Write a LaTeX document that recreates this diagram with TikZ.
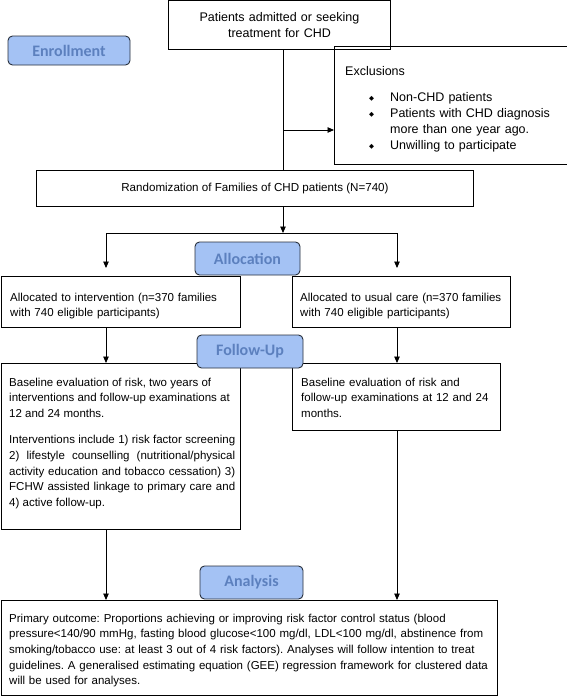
\documentclass[tikz,border=0pt]{standalone}
\usepackage{fontspec}
\setmainfont{Liberation Sans}
\newfontfamily\labelfont{Carlito}
\newfontfamily\symfont{DejaVu Sans}
\usetikzlibrary{arrows.meta}
\definecolor{labfill}{RGB}{164,194,244}
\definecolor{labtext}{RGB}{92,128,190}
\definecolor{labdraw}{RGB}{40,48,60}
\newcommand{\exbul}{\makebox[21pt][l]{\symfont\fontsize{6.5}{6.5}\selectfont\raisebox{0.8pt}{◆}}}
\frenchspacing
\begin{document}
\begin{tikzpicture}[x=1pt,y=-1pt,
  box/.style={draw=black, line width=0.9pt, inner sep=0pt, anchor=north west},
  bt/.style={font=\fontsize{11.6}{15.7}\selectfont},
  bigt/.style={font=\fontsize{12.5}{16}\selectfont},
  stage/.style={draw=labdraw, line width=0.9pt, fill=labfill, rounded corners=4.5pt, inner sep=0pt,
    font=\labelfont\bfseries\fontsize{16}{16}\selectfont, text=labtext},
  txt/.style={anchor=base west, inner sep=0pt, font=\fontsize{11.5}{15.7}\selectfont, align=left},
  arr/.style={-{Triangle[length=6.5pt,width=5.5pt]}, line width=0.9pt},
  conn/.style={line width=0.9pt}]
\useasboundingbox (0,0) rectangle (567,696);
\fill[white] (0,0) rectangle (567,696);

% boxes
\node[box, bigt, minimum width=222pt, minimum height=48.5pt, text width=215pt, align=center] (top) at (168,0.5)
  {Patients admitted or seeking\\treatment for CHD};
\node[box, minimum width=232.5pt, minimum height=118pt] (excl) at (334,46) {};
\node[txt, bigt, text width=218pt] (exclt) at (345,75)
  {Exclusions\par\vspace{10pt}
   \hspace*{24pt}\exbul Non-CHD patients\\
   \hspace*{24pt}\exbul Patients with CHD diagnosis\\
   \hspace*{45pt}more than one year ago.\\
   \hspace*{24pt}\exbul Unwilling to participate};
\node[box, bt, minimum width=437pt, minimum height=36pt] (rand) at (36,170)
  {Randomization of Families of CHD patients (N=740)};

\node[box, minimum width=239.5pt, minimum height=51pt] (allocL) at (0.5,276) {};
\node[txt, text width=228pt] (allocLt) at (10,301)
  {Allocated to intervention (n=370 families\\with 740 eligible participants)};
\node[box, minimum width=218pt, minimum height=51pt] (allocR) at (292,276) {};
\node[txt, text width=212pt] (allocRt) at (300,301)
  {Allocated to usual care (n=370 families\\with 740 eligible participants)};

\node[box, minimum width=239.5pt, minimum height=166pt] (baseL) at (0.5,363) {};
\node[txt, text width=226pt, align=justify] (baseLt) at (9,386)
  {Baseline evaluation of risk, two years of\\
   interventions and follow-up examinations at\\
   12 and 24 months.\par\vspace{10.5pt}
   Interventions include 1) risk factor screening\linebreak
   2) lifestyle counselling (nutritional/physical\linebreak
   activity education and tobacco cessation) 3)\linebreak
   FCHW assisted linkage to primary care and\linebreak
   4) active follow-up.};
\node[box, minimum width=208pt, minimum height=67pt] (baseR) at (292,363) {};
\node[txt, text width=200pt] (baseRt) at (301,386)
  {Baseline evaluation of risk and\\follow-up examinations at 12 and 24\\months.};

\node[box, minimum width=496.5pt, minimum height=95pt] (outc) at (0.5,600) {};
\node[txt, text width=495pt] (outct) at (9,622)
  {Primary outcome: Proportions achieving or improving risk factor control status (blood\\
   pressure<140/90 mmHg, fasting blood glucose<100 mg/dl, LDL<100 mg/dl, abstinence from\\
   smoking/tobacco use: at least 3 out of 4 risk factors). Analyses will follow intention to treat\\
   guidelines. A generalised estimating equation (GEE) regression framework for clustered data\\
   will be used for analyses.};

% connectors
\coordinate (spine) at (283,0);
\coordinate (exb) at (283,130);
\coordinate (split) at (283,233);
\coordinate (armL) at (106,233);
\coordinate (armR) at (397,233);
\draw[conn] (top.south -| spine) -- (rand.north -| spine);
\draw[arr] (exb) -- (exb -| excl.west);
\draw[arr] (rand.south -| spine) -- (split);
\draw[conn] (armL) -- (armR);
\draw[arr, shorten >=8pt] (armL) -- (allocL.north -| armL);
\draw[arr, shorten >=8pt] (armR) -- (allocR.north -| armR);
\draw[arr] (allocL.south -| armL) -- (baseL.north -| armL);
\draw[arr] (allocR.south -| armR) -- (baseR.north -| armR);
\draw[arr] (baseL.south -| armL) -- (outc.north -| armL);
\draw[arr] (baseR.south -| armR) -- (outc.north -| armR);

% stage labels
\node[stage, minimum width=122pt, minimum height=29pt] (enroll) at (69,50.5) {Enrollment};
\node[stage, minimum width=105pt, minimum height=33pt] (alloc) at (247.5,258.5) {Allocation};
\node[stage, minimum width=106pt, minimum height=33pt] (follow) at (250,351.5) {Follow-Up};
\node[stage, minimum width=103pt, minimum height=33pt] (anal) at (251.5,582.5) {Analysis};
\end{tikzpicture}
\end{document}
